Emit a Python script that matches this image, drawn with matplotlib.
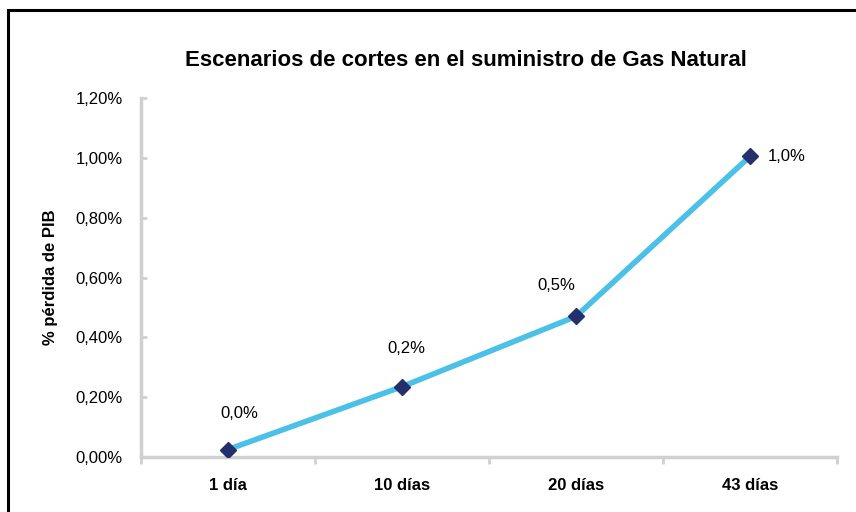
import matplotlib
matplotlib.use("Agg")
import matplotlib.pyplot as plt
from matplotlib.patches import Rectangle
from matplotlib.ticker import FuncFormatter

plt.rcParams['font.family'] = ['Liberation Sans', 'DejaVu Sans']

categories = ['1 día', '10 días', '20 días', '43 días']
values = [0.025, 0.235, 0.47, 1.005]
point_labels = ['0,0%', '0,2%', '0,5%', '1,0%']
# label offsets in pixels (Excel-style placement)
label_offsets = [(11, 36), (4, 38), (-20, 31), (37, 0)]

fig = plt.figure(figsize=(8.56, 5.12), dpi=100)
ax = fig.add_axes([141 / 856, 1 - 457 / 512, (837 - 141) / 856, (457 - 98) / 512])

# outer frame (only top and left visible in the crop)
fig.patches.append(Rectangle((8 / 856, -0.1), 1.2, (502 / 512) + 0.1, transform=fig.transFigure,
                             fill=False, edgecolor='black', linewidth=2.2, zorder=0))

x = list(range(len(categories)))
ax.plot(x, values, color='#4BC0E8', linewidth=4, zorder=2)
ax.plot(x, values, linestyle='none', marker='D', markersize=8,
        color='#24306E', zorder=3)

for xi, v, lab, (dx, dy) in zip(x, values, point_labels, label_offsets):
    ax.annotate(lab, (xi, v), xytext=(dx * 0.72, dy * 0.72), textcoords='offset points',
                ha='center', va='center', fontsize=12, color='black')

ax.set_xlim(-0.5, 3.5)
ax.set_ylim(0, 1.2)
ax.set_yticks([0, 0.2, 0.4, 0.6, 0.8, 1.0, 1.2])
ax.yaxis.set_major_formatter(FuncFormatter(lambda v, p: f'{v:.2f}%'.replace('.', ',')))

ax.set_xticks([-0.5, 0.5, 1.5, 2.5, 3.5])
ax.set_xticklabels([])
ax.set_xticks(x, minor=True)
ax.set_xticklabels(categories, minor=True, fontsize=12, fontweight='bold')
ax.tick_params(axis='x', which='major', direction='out', length=5, width=2, color='#d0d0d0')
ax.tick_params(axis='x', which='minor', length=0, pad=15)
ax.tick_params(axis='y', direction='in', length=4, width=2, color='#d0d0d0', pad=13, labelsize=12)

for s in ['top', 'right']:
    ax.spines[s].set_visible(False)
for s in ['left', 'bottom']:
    ax.spines[s].set_color('#d0d0d0')
    ax.spines[s].set_linewidth(2.5)

ax.set_ylabel('% pérdida de PIB', fontsize=12, fontweight='bold', labelpad=13)
fig.text(466 / 856, 1 - 60 / 512, 'Escenarios de cortes en el suministro de Gas Natural',
         ha='center', va='center', fontsize=16, fontweight='bold')

fig.savefig('out.png', dpi=100)
